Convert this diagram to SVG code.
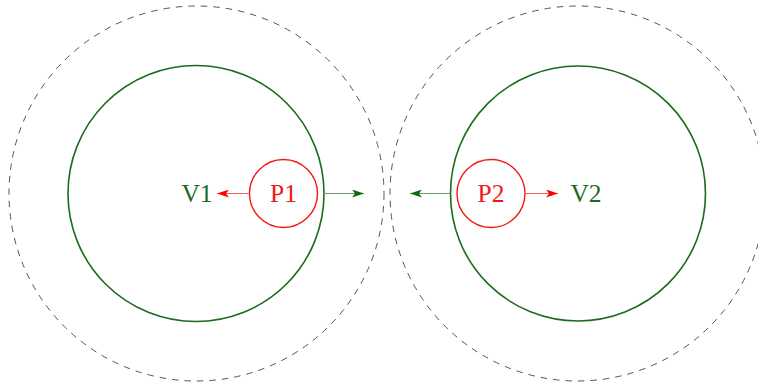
<svg xmlns="http://www.w3.org/2000/svg" width="758" height="386" viewBox="0 0 758 386">
<style>
.dash{fill:none;stroke:#555;stroke-width:1;stroke-dasharray:6.5 6}
.big{fill:none;stroke:#1b6b1b;stroke-width:1.6}
.p{fill:none;stroke:#f01818;stroke-width:1.4}
.tr{font-family:"Liberation Serif","DejaVu Serif",serif;font-size:25.5px;fill:#f01818;text-anchor:middle}
.tg{font-family:"Liberation Serif","DejaVu Serif",serif;font-size:25.5px;fill:#1b6b1b;text-anchor:middle}
.lr{stroke:#f06060;stroke-width:1}
.lg{stroke:#6f9a6f;stroke-width:1}
</style>
<defs>
<marker id="ar" viewBox="0 0 12 8" refX="12" refY="4" markerWidth="12" markerHeight="8" markerUnits="userSpaceOnUse" orient="auto">
<path d="M0,0 L12,4 L0,8 L3,4 Z" fill="#ff0000"/>
</marker>
<marker id="ag" viewBox="0 0 12 8" refX="12" refY="4" markerWidth="12" markerHeight="8" markerUnits="userSpaceOnUse" orient="auto">
<path d="M0,0 L12,4 L0,8 L3,4 Z" fill="#0d6a0d"/>
</marker>
</defs>
<g id="outer1"><circle class="dash" cx="196.5" cy="193.5" r="187.5"/></g>
<g id="outer2"><circle class="dash" cx="577.5" cy="193.5" r="187.5"/></g>
<g id="inner1"><circle class="big" cx="196" cy="193.5" r="128"/></g>
<g id="inner2"><circle class="big" cx="578" cy="193.5" r="127.5"/></g>
<g id="P1"><circle class="p" cx="283.5" cy="193.5" r="34"/><text class="tr" x="283.5" y="201.5">P1</text></g>
<g id="P2"><circle class="p" cx="491" cy="193.5" r="34"/><text class="tr" x="491" y="201.5">P2</text></g>
<g id="V1"><text class="tg" x="197" y="201.5">V1</text></g>
<g id="V2"><text class="tg" x="586" y="201.5">V2</text></g>
<g id="connectors">
<line class="lr" x1="249.5" y1="193.5" x2="217" y2="193.5" marker-end="url(#ar)"/>
<line class="lg" x1="324" y1="193.5" x2="364" y2="193.5" marker-end="url(#ag)"/>
<line class="lg" x1="450.5" y1="193.5" x2="410" y2="193.5" marker-end="url(#ag)"/>
<line class="lr" x1="525" y1="193.5" x2="558" y2="193.5" marker-end="url(#ar)"/>
</g>
</svg>
